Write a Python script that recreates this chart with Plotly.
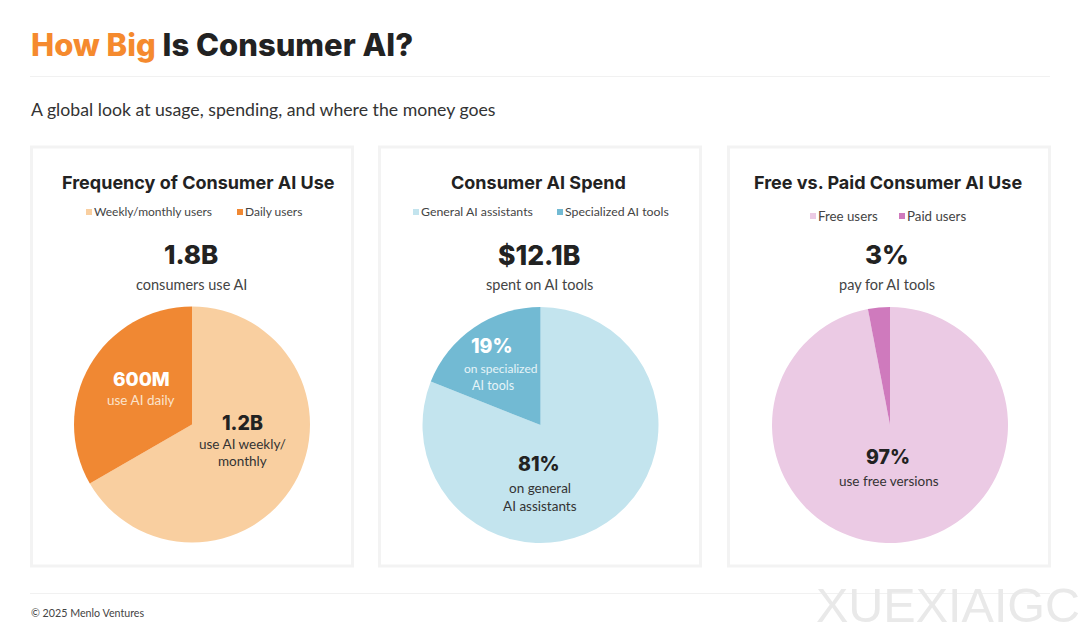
import plotly.graph_objects as go

W = 1080
H = 636

# dados dos paineis
titles = ["Frequency of Consumer AI Use", "Consumer AI Spend", "Free vs. Paid Consumer AI Use"]
labels_freq = ["Weekly/monthly users", "Daily users"]
labels_spend = ["General AI assistants", "Specialized AI tools"]
labels_paid = ["Free users", "Paid users"]
values_freq = [1200, 600]
values_spend = [81, 19]
values_paid = [97, 3]
colors_freq = ["#F9CFA0", "#F08833"]
colors_spend = ["#C3E4EE", "#72BAD3"]
colors_paid = ["#EBCAE4", "#CF7ABD"]
big_numbers = ["1.8B", "$12.1B", "3%"]
big_subs = ["consumers use AI", "spent on AI tools", "pay for AI tools"]

BODY = "Lato"
HEAD = "Inter"
DARK = "#222222"
GREY = "#444444"

fig = go.Figure()


def px(x):
    return x / W


def py(y):
    return 1 - y / H


def text(x, y, s, size, color=DARK, font=BODY, anchor="center", weight=400):
    # anotacao tem 2px de folga a esquerda
    if anchor == "left":
        x = x - 2
    fig.add_annotation(
        x=px(x), y=py(y), xref="paper", yref="paper", text=s, showarrow=False,
        xanchor=anchor, yanchor="middle", align=anchor,
        font=dict(family=font, size=size, color=color, weight=weight),
    )


def box(x0, y0, x1, y1, fill=None, line=None, lw=0):
    fig.add_shape(
        type="rect", xref="paper", yref="paper",
        x0=px(x0), x1=px(x1), y0=py(y0), y1=py(y1),
        fillcolor=fill, line=dict(color=line, width=lw), layer="below",
    )


def pie(cx, cy, r, values, labels, colors):
    fig.add_trace(go.Pie(
        values=values, labels=labels, sort=False, direction="clockwise", rotation=0,
        textinfo="none", hoverinfo="label+value", showlegend=False,
        marker=dict(colors=colors, line=dict(width=0)),
        domain=dict(x=[px(cx - r), px(cx + r)], y=[py(cy + r), py(cy - r)]),
    ))


# cabecalho
text(31, 44.5, "<span style='color:#F58A2E'>How Big</span> Is Consumer AI?", 31, font=HEAD, anchor="left", weight=800)
box(30, 76, 1050, 77, fill="#F1F1F1")
text(31, 110, "A global look at usage, spending, and where the money goes", 17.7, color="#333333", anchor="left")

# cartoes
for x0 in [31.5, 379.5, 728.5]:
    box(x0, 147, x0 + 321, 566, fill="white", line="#F3F3F3", lw=3)

# pizzas
pie(192, 424.5, 118, values_freq, labels_freq, colors_freq)
pie(540.5, 425, 118, values_spend, labels_spend, colors_spend)
pie(890, 425, 118, values_paid, labels_paid, colors_paid)

# titulos e numeros grandes
for tx, nx, t, n, s, ns in zip([198, 538, 888], [191, 539, 887], titles, big_numbers, big_subs, [26, 26.5, 26]):
    text(tx, 182, t, 18, font=HEAD, weight=700)
    text(nx, 255, n, ns, font=HEAD, weight=800)
    text(nx, 284, s, 14.5, color=GREY)

# legendas
legend_rows = [
    (212, [86, 237], labels_freq, colors_freq, 12),
    (212, [413, 557], labels_spend, colors_spend, 12.3),
    (216, [810, 899], labels_paid, colors_paid, 13.3),
]
for y, xs, labs, cols, size in legend_rows:
    for x, lab, col in zip(xs, labs, cols):
        box(x, y - 3, x + 6, y + 3, fill=col)
        text(x + 8, y, lab, size, color=GREY, anchor="left")

# rotulos dentro das pizzas
text(141, 379, "600M", 19, color="white", font=HEAD, weight=800)
text(141, 400, "use AI daily", 13.5, color="#FBE3CC")
text(242, 423, "1.2B", 19.5, font=HEAD, weight=800)
text(242, 444, "use AI weekly/", 13.5, color="#333333")
text(242, 461, "monthly", 13.5, color="#333333")

text(492, 346, "19%", 19.5, color="white", font=HEAD, weight=800)
text(500, 368, "on specialized", 12, color="#E6F4F8")
text(493, 385, "AI tools", 12.5, color="#E6F4F8")
text(539, 464, "81%", 19.5, font=HEAD, weight=800)
text(540, 488, "on general", 13.5, color="#333333")
text(540, 506, "AI assistants", 13.5, color="#333333")

text(888, 457, "97%", 19.5, font=HEAD, weight=800)
text(889, 481, "use free versions", 13.5, color="#333333")

# rodape
box(30, 593, 1050, 594, fill="#F1F1F1")
text(31, 612, "© 2025 Menlo Ventures", 10.7, color=GREY, anchor="left")
text(948, 605, "XUEXIAIGC", 48.5, color="#E9E9E9", font="Liberation Sans")

fig.update_layout(
    width=W, height=H, margin=dict(l=0, r=0, t=0, b=0),
    paper_bgcolor="white", plot_bgcolor="white",
)
fig.write_html("out.html", config={"displayModeBar": False},
               post_script="document.body.style.margin='0';")
